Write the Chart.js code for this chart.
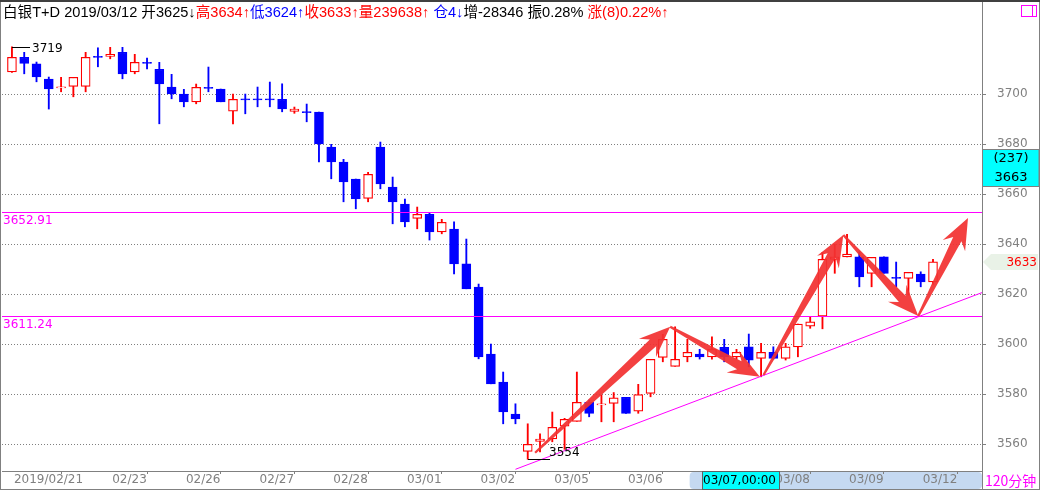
<!DOCTYPE html>
<html>
<head>
<meta charset="utf-8">
<script src="https://cdn.jsdelivr.net/npm/chart.js@4.4.1/dist/chart.umd.min.js"></script>
<style>
  html, body { margin: 0; padding: 0; background: #fff; }
  canvas { display: block; }
</style>
</head>
<body>
<canvas id="kline" width="1040" height="492"></canvas>
<script>
////////////////////////////// data: 120-minute bars, 白银T+D //////////////////////////////
const openPx = [
  3709.0, 3714.8, 3712.2, 3706.1, 3702.6, 3703.2, 3703.2, 3715.2, 3715.2, 3716.8,
  3709.0, 3712.8, 3710.0, 3702.9, 3700.1, 3697.0, 3702.8, 3702.1, 3693.3, 3698.2,
  3698.2, 3698.2, 3698.0, 3693.2, 3693.1, 3692.9, 3678.9, 3672.9, 3666.1, 3658.4,
  3678.9, 3662.9, 3656.1, 3650.4, 3652.0, 3645.0, 3646.1, 3632.2, 3622.9, 3596.1,
  3584.9, 3572.1, 3557.2, 3561.2, 3562.2, 3567.3, 3569.2, 3576.8, 3575.8, 3576.4,
  3578.8, 3573.3, 3580.4, 3594.8, 3591.2, 3595.0, 3596.1, 3595.0, 3598.8, 3595.0,
  3599.0, 3594.4, 3596.8, 3594.4, 3599.0, 3607.3, 3611.3, 3634.0, 3635.0, 3635.0,
  3628.4, 3635.0, 3626.8, 3626.4, 3628.1, 3625.0
];
const highPx = [
  3719.0, 3716.8, 3712.9, 3706.9, 3706.8, 3706.8, 3716.8, 3718.6, 3718.8, 3718.8,
  3716.0, 3714.5, 3712.8, 3708.0, 3702.0, 3704.1, 3710.9, 3702.1, 3700.1, 3700.1,
  3702.9, 3704.9, 3704.2, 3694.9, 3696.1, 3692.9, 3680.0, 3674.0, 3666.1, 3668.8,
  3680.9, 3666.9, 3658.1, 3654.9, 3652.4, 3650.0, 3649.0, 3642.1, 3624.1, 3600.1,
  3588.9, 3576.2, 3568.2, 3564.2, 3572.9, 3570.4, 3588.9, 3577.7, 3579.7, 3580.7,
  3578.8, 3584.0, 3594.0, 3604.0, 3607.0, 3602.0, 3598.0, 3603.0, 3602.0, 3598.0,
  3604.1, 3600.4, 3599.0, 3600.4, 3608.1, 3610.8, 3636.8, 3640.0, 3644.0, 3637.0,
  3634.8, 3635.0, 3632.9, 3628.8, 3629.0, 3634.0
];
const lowPx = [
  3708.8, 3708.2, 3705.0, 3694.1, 3701.0, 3699.0, 3701.0, 3711.0, 3714.2, 3706.2,
  3708.2, 3710.2, 3688.2, 3698.2, 3695.0, 3696.2, 3701.0, 3697.0, 3688.2, 3692.2,
  3695.0, 3695.0, 3693.0, 3692.4, 3689.0, 3673.0, 3666.2, 3657.0, 3654.2, 3657.0,
  3662.2, 3648.2, 3647.0, 3646.2, 3641.7, 3644.2, 3628.2, 3622.2, 3594.2, 3584.2,
  3568.2, 3568.2, 3554.0, 3557.0, 3561.0, 3558.0, 3569.2, 3571.0, 3569.0, 3569.0,
  3572.4, 3572.4, 3579.0, 3593.0, 3591.2, 3593.0, 3594.1, 3594.1, 3593.0, 3594.0,
  3591.0, 3587.0, 3594.1, 3593.7, 3595.0, 3606.4, 3606.2, 3628.4, 3635.0, 3623.0,
  3623.0, 3628.4, 3623.0, 3619.7, 3623.0, 3624.0
];
const closePx = [
  3714.8, 3712.4, 3707.0, 3702.2, 3703.0, 3706.8, 3714.8, 3714.8, 3716.0, 3708.2,
  3712.8, 3712.4, 3704.2, 3700.2, 3697.0, 3702.8, 3702.4, 3697.0, 3698.0, 3697.8,
  3697.8, 3697.8, 3694.2, 3694.1, 3692.7, 3680.2, 3673.0, 3665.0, 3658.2, 3668.0,
  3664.2, 3657.0, 3649.0, 3652.0, 3645.0, 3648.8, 3632.2, 3622.2, 3595.0, 3584.2,
  3573.0, 3570.2, 3560.0, 3562.1, 3566.8, 3570.0, 3576.8, 3572.4, 3576.2, 3578.6,
  3572.4, 3579.9, 3594.0, 3602.0, 3594.0, 3596.8, 3595.0, 3598.0, 3595.0, 3596.8,
  3593.7, 3596.8, 3594.4, 3599.0, 3608.1, 3609.0, 3634.0, 3635.0, 3636.1, 3627.0,
  3634.8, 3628.4, 3626.4, 3628.8, 3625.0, 3633.0
];

// first bar of each trading day on the time axis
const dayTicks  = [0, 8, 14, 20, 26, 32, 38, 44, 50, 56, 62, 68, 74];
const dayLabels = ['2019/02/21', '02/23', '02/26', '02/27', '02/28', '03/01', '03/02',
                   '03/05', '03/06', '03/07', '03/08', '03/09', '03/12'];
const priceTicks = [3560, 3580, 3600, 3620, 3640, 3660, 3680, 3700];

// drawn lines: two horizontal levels and one support line (bar index, price)
const levelLines = [3652.91, 3611.24];
const supportLine = [[41, 3550.0], [79, 3620.7]];
// hand drawn arrows, [from, to] in (bar index, price)
const arrowPaths = [
  [[42.6, 3556.6], [53.6, 3607.0]],
  [[53.6, 3607.0], [60.9, 3587.0]],
  [[61.2, 3587.7], [67.7, 3643.7]],
  [[67.7, 3643.7], [73.8, 3611.3]],
  [[73.8, 3611.3], [77.85, 3650.5]]
];

// crosshair read-out
const cursorIndex = 56;
const cursorTime = '03/07,00:00';
const cursorPrice = 3663;
const cursorCount = '(237)';

const RED = '#ff0000';
const BLUE = '#0000ff';
const GREY = '#808080';
const MAGENTA = '#ff00ff';

const titleParts = [
  ['白银T+D 2019/03/12 开3625↓', '#000000'],
  ['高3634↑', RED],
  ['低3624↑', BLUE],
  ['收3633↑', RED],
  ['量239638↑ ', RED],
  ['仓4↓', BLUE],
  ['增-28346 振0.28% ', '#000000'],
  ['涨(8)0.22%↑', RED]
];

////////////////////////////// helpers //////////////////////////////
const isUp = i => closePx[i] >= openPx[i];
const candleColor = ctx => (isUp(ctx.dataIndex) ? RED : BLUE);

// no label padding around the plot, the axes get fixed sizes
const fixAxisBox = size => s => {
  if (s.isHorizontal()) s.height = size; else s.width = size;
  s.paddingTop = 0; s.paddingBottom = 0; s.paddingLeft = 0; s.paddingRight = 0;
};

function drawArrow(ctx, sx, sy, tx, ty) {
  const len = Math.hypot(tx - sx, ty - sy);
  const ux = (tx - sx) / len, uy = (ty - sy) / len;
  const nx = -uy, ny = ux;
  const headLen = 31, headW = 12.5, shaftW = 4.6, tailW = 1.1;
  const hx = tx - ux * headLen, hy = ty - uy * headLen;
  const jx = tx - ux * headLen * 0.76, jy = ty - uy * headLen * 0.76;
  ctx.beginPath();
  ctx.moveTo(sx + nx * tailW, sy + ny * tailW);
  ctx.lineTo(jx + nx * shaftW, jy + ny * shaftW);
  ctx.lineTo(hx + nx * headW, hy + ny * headW);
  ctx.lineTo(tx, ty);
  ctx.lineTo(hx - nx * headW, hy - ny * headW);
  ctx.lineTo(jx - nx * shaftW, jy - ny * shaftW);
  ctx.lineTo(sx - nx * tailW, sy - ny * tailW);
  ctx.closePath();
  ctx.fill();
}

////////////////////////////// extra drawing //////////////////////////////
const overlay = {
  id: 'overlay',
  beforeDraw(chart) {
    const { ctx, chartArea: a, scales: { x } } = chart;
    ctx.save();
    ctx.fillStyle = '#ffffff';
    ctx.fillRect(0, 0, chart.width, chart.height);
    // selected range on the time axis
    const x0 = x.getPixelForValue(cursorIndex) - 10;
    ctx.fillStyle = '#c5d9f1';
    ctx.beginPath();
    ctx.roundRect(x0, a.bottom + 1, a.right - x0, x.bottom - a.bottom - 2, 4);
    ctx.fill();
    ctx.restore();
  },
  afterDatasetsDraw(chart) {
    const { ctx, chartArea: a, scales: { x, y } } = chart;
    ctx.save();
    ctx.beginPath();
    ctx.rect(a.left, a.top, a.right - a.left, a.bottom - a.top);
    ctx.clip();

    // horizontal levels with their price at the left
    ctx.strokeStyle = MAGENTA;
    ctx.fillStyle = MAGENTA;
    ctx.lineWidth = 1;
    ctx.font = '12px "DejaVu Sans"';
    ctx.textBaseline = 'top';
    ctx.textAlign = 'left';
    levelLines.forEach(v => {
      const py = Math.round(y.getPixelForValue(v)) + 0.5;
      ctx.beginPath();
      ctx.moveTo(a.left, py);
      ctx.lineTo(a.right, py);
      ctx.stroke();
      ctx.fillText(v.toFixed(2), a.left + 1, py + 2);
    });

    // highest high / lowest low markers
    const hiIdx = highPx.indexOf(Math.max(...highPx));
    const loIdx = lowPx.indexOf(Math.min(...lowPx));
    ctx.strokeStyle = '#000';
    ctx.fillStyle = '#000';
    let px = Math.round(x.getPixelForValue(hiIdx));
    let py = Math.round(y.getPixelForValue(highPx[hiIdx])) + 0.5;
    ctx.beginPath();
    ctx.moveTo(px, py);
    ctx.lineTo(px + 18, py);
    ctx.stroke();
    ctx.textBaseline = 'middle';
    ctx.fillText(Math.round(highPx[hiIdx]).toString(), px + 20, py + 1);
    px = Math.round(x.getPixelForValue(loIdx));
    py = Math.round(y.getPixelForValue(lowPx[loIdx])) + 0.5;
    ctx.beginPath();
    ctx.moveTo(px, py);
    ctx.lineTo(px + 22, py);
    ctx.stroke();
    ctx.textBaseline = 'bottom';
    ctx.fillText(Math.round(lowPx[loIdx]).toString(), px + 21, py - 1);
    ctx.restore();

    // arrows
    ctx.save();
    ctx.fillStyle = 'rgba(242, 50, 50, 0.93)';
    arrowPaths.forEach(([from, to]) => {
      drawArrow(ctx,
        x.getPixelForValue(from[0]), y.getPixelForValue(from[1]),
        x.getPixelForValue(to[0]), y.getPixelForValue(to[1]));
    });
    ctx.restore();
  },
  afterDraw(chart) {
    const { ctx, chartArea: a, scales: { x, y } } = chart;
    const W = chart.width;
    ctx.save();

    // frame
    ctx.fillStyle = '#404040';
    ctx.fillRect(0, 0, W, 2);
    ctx.strokeStyle = GREY;
    ctx.lineWidth = 1;
    ctx.beginPath();
    ctx.moveTo(0.5, 2); ctx.lineTo(0.5, x.bottom);
    ctx.moveTo(W - 0.5, 2); ctx.lineTo(W - 0.5, x.bottom);
    ctx.moveTo(0, x.bottom - 0.5); ctx.lineTo(W, x.bottom - 0.5);
    ctx.moveTo(a.right + 0.5, a.bottom); ctx.lineTo(a.right + 0.5, x.bottom);
    ctx.stroke();

    // small box top right
    ctx.strokeStyle = MAGENTA;
    ctx.strokeRect(1021.5, 5.5, 15, 11);
    ctx.beginPath();
    ctx.moveTo(1032.5, 5.5); ctx.lineTo(1032.5, 16.5);
    ctx.stroke();

    // title line
    ctx.font = '14.6px "Liberation Sans", "Noto Sans CJK SC"';
    ctx.textBaseline = 'middle';
    ctx.textAlign = 'left';
    let tx = 3;
    titleParts.forEach(([text, color]) => {
      ctx.fillStyle = color;
      ctx.fillText(text, tx, 13);
      tx += ctx.measureText(text).width;
    });

    // crosshair time on the axis
    const cx = Math.round(x.getPixelForValue(cursorIndex)) + 2;
    ctx.fillStyle = '#00ffff';
    ctx.fillRect(cx, a.bottom + 1, 77, x.bottom - a.bottom - 2);
    ctx.strokeStyle = '#606060';
    ctx.strokeRect(cx + 0.5, a.bottom + 0.5, 77, x.bottom - a.bottom - 1);
    ctx.fillStyle = '#000';
    ctx.font = '12px "DejaVu Sans"';
    ctx.fillText(cursorTime, cx + 1, a.bottom + 10);

    // crosshair price on the right axis
    const cy = Math.round(y.getPixelForValue(cursorPrice));
    ctx.fillStyle = '#00ffff';
    ctx.fillRect(a.right + 1, cy - 37, W - a.right - 2, 37);
    ctx.strokeStyle = GREY;
    ctx.strokeRect(a.right + 0.5, cy - 37.5, W - a.right - 1.5, 37);
    ctx.fillStyle = '#000';
    ctx.font = '13px "DejaVu Sans"';
    ctx.textAlign = 'center';
    ctx.fillText(cursorCount, a.right + 29, cy - 28);
    ctx.fillText(String(cursorPrice), a.right + 29, cy - 9);

    // last close tag
    const last = closePx.length - 1;
    const ly = Math.round(y.getPixelForValue(closePx[last]));
    ctx.fillStyle = '#e9f2e7';
    ctx.beginPath();
    ctx.moveTo(a.right + 1, ly);
    ctx.lineTo(a.right + 9, ly - 8);
    ctx.lineTo(W - 2, ly - 8);
    ctx.lineTo(W - 2, ly + 8);
    ctx.lineTo(a.right + 9, ly + 8);
    ctx.closePath();
    ctx.fill();
    ctx.fillStyle = RED;
    ctx.textAlign = 'right';
    ctx.font = '12px "DejaVu Sans"';
    ctx.fillText(String(Math.round(closePx[last])), W - 3, ly + 1);

    // period
    ctx.fillStyle = MAGENTA;
    ctx.textAlign = 'left';
    ctx.font = '14px "Noto Sans CJK SC"';
    ctx.fillText('120分钟', a.right + 3, a.bottom + 10);
    ctx.restore();
  }
};

////////////////////////////// chart //////////////////////////////
const bars = openPx.map((o, i) => i);

new Chart(document.getElementById('kline'), {
  type: 'bar',
  data: {
    datasets: [
      {
        type: 'line',
        data: supportLine.map(([bx, v]) => ({ x: bx, y: v })),
        borderColor: MAGENTA,
        borderWidth: 1,
        pointRadius: 0,
        order: -1
      },
      {
        // bodies
        data: bars.map(i => ({ x: i, y: [openPx[i], closePx[i]] })),
        backgroundColor: ctx => (isUp(ctx.dataIndex) ? '#ffffff' : BLUE),
        borderColor: candleColor,
        borderWidth: 1.2,
        borderSkipped: false,
        barThickness: 9,
        minBarLength: 1,
        grouped: false,
        order: 0
      },
      {
        // wicks
        data: bars.map(i => ({ x: i, y: [lowPx[i], highPx[i]] })),
        backgroundColor: candleColor,
        borderWidth: 0,
        barThickness: 1.2,
        grouped: false,
        order: 1
      }
    ]
  },
  options: {
    responsive: false,
    animation: false,
    events: [],
    layout: { padding: { left: 2, top: 2, right: 1, bottom: 2 } },
    plugins: { legend: { display: false }, tooltip: { enabled: false }, title: { display: false } },
    scales: {
      x: {
        type: 'linear',
        offset: false,
        min: -0.81,
        max: 78.99,
        bounds: 'data',
        afterBuildTicks: s => { s.ticks = dayTicks.map(v => ({ value: v })); },
        afterFit: fixAxisBox(19),
        ticks: {
          autoSkip: false,
          maxRotation: 0,
          align: 'start',
          labelOffset: 2,
          padding: 0,
          color: GREY,
          font: { family: 'DejaVu Sans', size: 12, lineHeight: 1 },
          callback: v => dayLabels[dayTicks.indexOf(v)]
        },
        grid: { drawOnChartArea: false, drawTicks: true, tickLength: 3, color: GREY },
        border: { color: GREY }
      },
      y: {
        position: 'right',
        min: 3549.32,
        max: 3736.92,
        bounds: 'data',
        afterBuildTicks: s => { s.ticks = priceTicks.map(v => ({ value: v })); },
        afterFit: fixAxisBox(57),
        ticks: {
          padding: 11,
          color: GREY,
          font: { family: 'DejaVu Sans', size: 12 },
          callback: v => String(v)
        },
        grid: { color: GREY, tickLength: 4, tickColor: GREY },
        border: { color: GREY, dash: [1, 2] }
      }
    }
  },
  plugins: [overlay]
});
</script>
</body>
</html>
